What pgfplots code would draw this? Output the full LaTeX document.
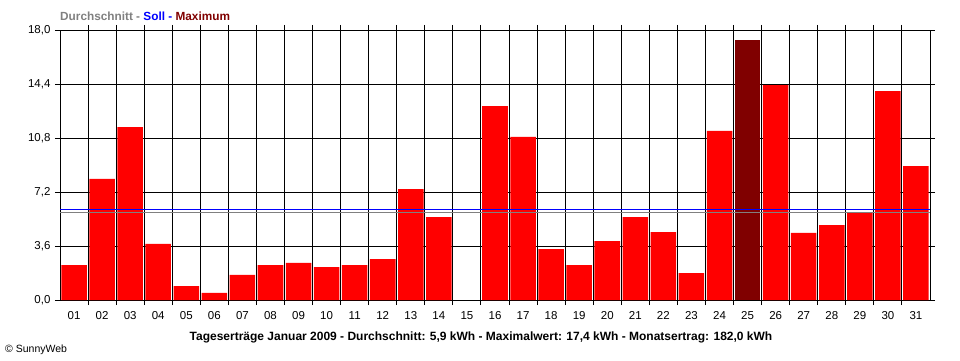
\documentclass[border=0pt]{standalone}
\usepackage{pgfplots}
\pgfplotsset{compat=1.18}
\usepackage{fontspec}
\setmainfont{Liberation Sans}
\definecolor{barred}{RGB}{255,0,0}
\definecolor{maxred}{RGB}{128,0,0}
\definecolor{avggray}{RGB}{128,128,128}
\definecolor{sollblue}{RGB}{0,0,255}
\pgfplotstableread{
day val
1 2.33
2 8.07
3 11.53
4 3.75
5 0.93
6 0.47
7 1.67
8 2.33
9 2.47
10 2.20
11 2.33
12 2.73
13 7.40
14 5.53
16 12.93
17 10.87
18 3.40
19 2.33
20 3.93
21 5.53
22 4.53
23 1.80
24 11.27
26 14.33
27 4.47
28 5.00
29 5.80
30 13.93
31 8.93
}\daydata
\pgfplotstableread{
day val
25 17.33
}\maxdata
\begin{document}
\begin{tikzpicture}[x=1pt,y=1pt]
\useasboundingbox (0,0) rectangle (960,360);
\begin{axis}[
  at={(60pt,60pt)}, anchor=south west,
  scale only axis, width=870pt, height=270pt,
  xmin=0.5, xmax=31.5, ymin=0, ymax=18,
  axis line style={black, line width=1pt},
  xtick={1,...,31},
  xticklabels={01,02,03,04,05,06,07,08,09,10,11,12,13,14,15,16,17,18,19,20,21,22,23,24,25,26,27,28,29,30,31},
  major x tick style={draw=none},
  minor xtick={1.5,2.5,...,30.5},
  extra x ticks={0.5,31.5}, extra x tick labels={},
  extra x tick style={grid=none, tick style={black, line width=1pt}},
  xminorgrids=true,
  minor x tick style={black, line width=1pt},
  minor x grid style={black, line width=1pt},
  ytick={0,3.6,7.2,10.8,14.4,18},
  yticklabels={{0,0},{3,6},{7,2},{10,8},{14,4},{18,0}},
  ymajorgrids=true,
  major y grid style={black, line width=1pt},
  ytick style={black, line width=1pt},
  tick align=outside,
  major tick length=5pt, minor tick length=5pt,
  tick label style={font=\fontsize{11.5}{13}\selectfont},
  /pgf/number format/assume math mode=true,
  xticklabel style={yshift=-3pt},
  yticklabel style={xshift=-1pt},
  clip=false,
]
\addplot[ybar, bar width=0.91, fill=barred, draw=none] table[x=day,y=val] {\daydata};
\addplot[ybar, bar width=0.91, fill=maxred, draw=none] table[x=day,y=val] {\maxdata};
\addplot[avggray, line width=1pt] coordinates {(0.5,5.82) (31.5,5.82)};
\addplot[sollblue, line width=1pt] coordinates {(0.5,6.05) (31.5,6.05)};
\end{axis}
\node[anchor=west, font=\bfseries\fontsize{11.8}{13}\selectfont, inner sep=0pt] at (60,344) {\textcolor{avggray}{Durchschnitt - }\textcolor{sollblue}{Soll - }\textcolor{maxred}{Maximum}};
\node[anchor=center, font=\bfseries\fontsize{12}{14}\selectfont, inner sep=0pt] at (481,23) {Tageserträge Januar 2009 - Durchschnitt: 5,9 kWh - Maximalwert: 17,4 kWh - Monatsertrag: 182,0 kWh};
\node[anchor=west, font=\fontsize{10.5}{12}\selectfont, inner sep=0pt] at (5,10) {\textcopyright\ SunnyWeb};
\end{tikzpicture}
\end{document}
